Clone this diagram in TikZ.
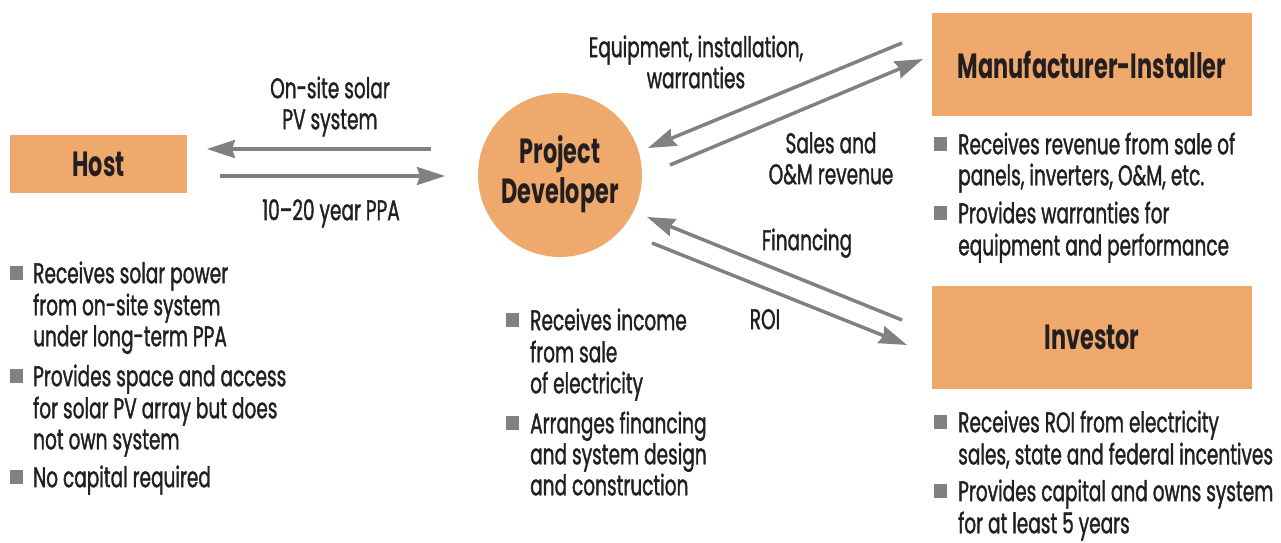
\documentclass[tikz,border=0pt]{standalone}
\usepackage{fontspec}
\setmainfont{Poppins}[FakeStretch=0.65, UprightFeatures={FakeBold=1.2}, BoldFeatures={FakeStretch=0.64}]
\usetikzlibrary{arrows.meta}
\definecolor{boxorange}{HTML}{F0A96C}
\definecolor{arrowgray}{HTML}{808185}
\definecolor{textdark}{HTML}{231F20}
\begin{document}
\begin{tikzpicture}[x=1pt,y=-1pt,
  every node/.style={text=textdark},
  box/.style={fill=boxorange, draw=none, inner sep=0, font=\fontsize{35}{40}\selectfont\bfseries},
  lbl/.style={font=\fontsize{28.5}{31}\selectfont, inner sep=0, align=center, anchor=north},
  item/.style={font=\fontsize{28.5}{31}\selectfont, inner sep=0, align=left, anchor=north west},
  sq/.style={fill=arrowgray, minimum width=13pt, minimum height=14pt, inner sep=0, anchor=south west},
  flow/.style={draw=arrowgray, line width=3.5pt, -{Stealth[length=28pt,width=18pt,inset=3pt]}}]
\useasboundingbox (0,0) rectangle (1281,542);

% boxes
\node[box, minimum width=177pt, minimum height=58pt] (host) at (98.5,164) {Host};
\node[box, circle, minimum size=164pt, align=center] (dev) at (560,175) {\strut Project\\\strut Developer};
\node[box, minimum width=320pt, minimum height=103pt] (man) at (1092,64.5) {Manufacturer-Installer};
\node[box, minimum width=320pt, minimum height=103pt] (inv) at (1092,337.5) {Investor};

% arrow endpoints
\coordinate (hlS) at (431,149); \coordinate (hlE) at (207,149);
\coordinate (hrS) at (220,176); \coordinate (hrE) at (445,176);
\coordinate (eqS) at (902,43);  \coordinate (eqE) at (648,148);
\coordinate (saS) at (670,165); \coordinate (saE) at (923,59);
\coordinate (fiS) at (902,320); \coordinate (fiE) at (647,217);
\coordinate (roS) at (652,243); \coordinate (roE) at (907,345);

\draw[flow] (hlS) -- (hlE);
\draw[flow] (hrS) -- (hrE);
\draw[flow] (eqS) -- (eqE);
\draw[flow] (saS) -- (saE);
\draw[flow] (fiS) -- (fiE);
\draw[flow] (roS) -- (roE);

% flow labels
\node[lbl] (l1) at (330,76.3) {\strut On-site solar\\PV system};
\node[lbl] (l2) at (331,198.3) {\strut 10–20 year PPA};
\node[lbl] (l3) at (696,35.3) {\strut Equipment, installation,\\warranties};
\node[lbl] (l4) at (831,131.3) {\strut Sales and\\O\&M revenue};
\node[lbl] (l5) at (807,228.3) {\strut Financing};
\node[lbl] (l6) at (765,307.3) {\strut ROI};

% host bullets
\node[sq] (hs1) at (10,280) {};
\node[item] (hi1) at (33,261.3) {\strut Receives solar power\\from on-site system\\under long-term PPA};
\node[sq] (hs2) at (10,383) {};
\node[item] (hi2) at (33,364.3) {\strut Provides space and access\\for solar PV array but does\\not own system};
\node[sq] (hs3) at (10,484) {};
\node[item] (hi3) at (33,465.3) {\strut No capital required};

% developer bullets
\node[sq] (ds1) at (506,327) {};
\node[item] (di1) at (530,308.3) {\strut Receives income\\from sale\\of electricity};
\node[sq] (ds2) at (506,430) {};
\node[item] (di2) at (530,411.3) {\strut Arranges financing\\and system design\\and construction};

% manufacturer bullets
\node[sq] (ms1) at (934,151) {};
\node[item] (mi1) at (958,132.3) {\strut Receives revenue from sale of\\panels, inverters, O\&M, etc.};
\node[sq] (ms2) at (934,220) {};
\node[item] (mi2) at (958,201.3) {\strut Provides warranties for\\equipment and performance};

% investor bullets
\node[sq] (is1) at (934,429) {};
\node[item] (ii1) at (958,410.3) {\strut Receives ROI from electricity\\sales, state and federal incentives};
\node[sq] (is2) at (934,498) {};
\node[item] (ii2) at (958,479.3) {\strut Provides capital and owns system\\for at least 5 years};
\end{tikzpicture}
\end{document}
